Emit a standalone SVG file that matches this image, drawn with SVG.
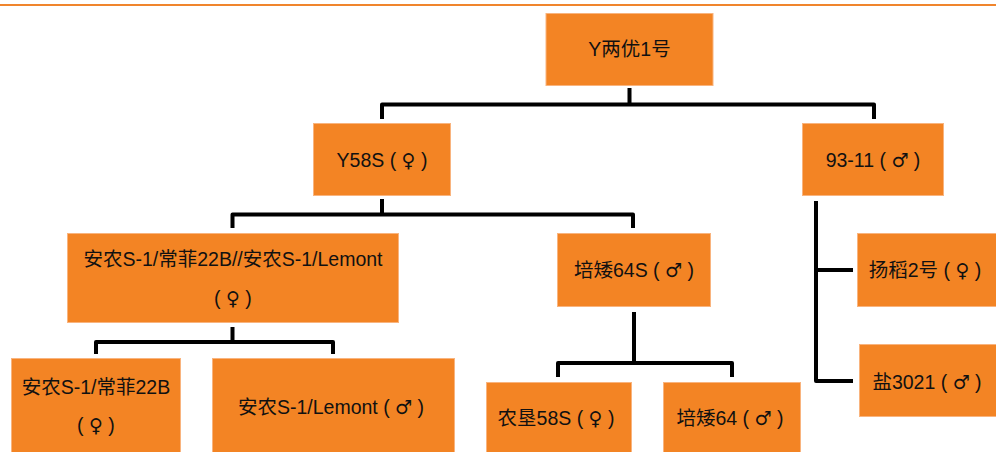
<svg xmlns="http://www.w3.org/2000/svg" width="996" height="452" viewBox="0 0 996 452">
<style>
.box{fill:#F38424;stroke:#F9B47E;stroke-width:1}
.t{font-family:"Liberation Sans","Noto Sans CJK SC",sans-serif;font-size:19.5px;fill:#111;text-anchor:middle;dominant-baseline:central}
.s{font-family:"DejaVu Sans","Noto Sans CJK SC",sans-serif;font-size:19px}
.c{fill:none;stroke:#000;stroke-width:4;stroke-linejoin:round;stroke-linecap:butt}
</style>
<rect x="0" y="0" width="996" height="452" fill="#fff"/>
<line x1="0" y1="5" x2="996" y2="5" stroke="#F0852D" stroke-width="2"/>
<g id="connectors">
<path class="c" d="M629.5,88 V104.5 M382,119 V104.5 H874 V119"/>
<path class="c" d="M382,199 V214.5 M232.5,228 V214.5 H633 V228"/>
<path class="c" d="M816,201 V381 H853 M816,270 H853"/>
<path class="c" d="M232.5,327 V342 M96,354 V342 H333 V354"/>
<path class="c" d="M634,312 V363 M558,377 V363 H732 V377"/>
</g>
<g id="n1"><rect class="box" x="546" y="13.5" width="167" height="72"/><text class="t" x="629.5" y="49">Y两优1号</text></g>
<g id="n2"><rect class="box" x="313.5" y="123.5" width="137" height="72"/><text class="t" x="382" y="160">Y58S ( <tspan class="s">♀</tspan> )</text></g>
<g id="n3"><rect class="box" x="802.5" y="123.5" width="141" height="72"/><text class="t" x="873" y="160">93-11 ( <tspan class="s">♂</tspan> )</text></g>
<g id="n4"><rect class="box" x="67.5" y="233.5" width="331" height="89"/><text class="t" x="233" y="259">安农S-1/常菲22B//安农S-1/Lemont</text><text class="t" x="233" y="298">( <tspan class="s">♀</tspan> )</text></g>
<g id="n5"><rect class="box" x="557.5" y="233.5" width="153" height="73"/><text class="t" x="634" y="270">培矮64S ( <tspan class="s">♂</tspan> )</text></g>
<g id="n6"><rect class="box" x="857.5" y="233.5" width="140" height="73"/><text class="t" x="925" y="270">扬稻2号 ( <tspan class="s">♀</tspan> )</text></g>
<g id="n7"><rect class="box" x="859.5" y="344.5" width="138" height="72"/><text class="t" x="927" y="382">盐3021 ( <tspan class="s">♂</tspan> )</text></g>
<g id="n8"><rect class="box" x="11.5" y="358.5" width="169" height="95"/><text class="t" x="96" y="387">安农S-1/常菲22B</text><text class="t" x="96" y="425">( <tspan class="s">♀</tspan> )</text></g>
<g id="n9"><rect class="box" x="212.5" y="358.5" width="242" height="95"/><text class="t" x="331" y="407">安农S-1/Lemont ( <tspan class="s">♂</tspan> )</text></g>
<g id="n10"><rect class="box" x="486.5" y="382.5" width="145" height="71"/><text class="t" x="556" y="418">农垦58S ( <tspan class="s">♀</tspan> )</text></g>
<g id="n11"><rect class="box" x="663.5" y="382.5" width="137" height="71"/><text class="t" x="730" y="418">培矮64 ( <tspan class="s">♂</tspan> )</text></g>
</svg>
